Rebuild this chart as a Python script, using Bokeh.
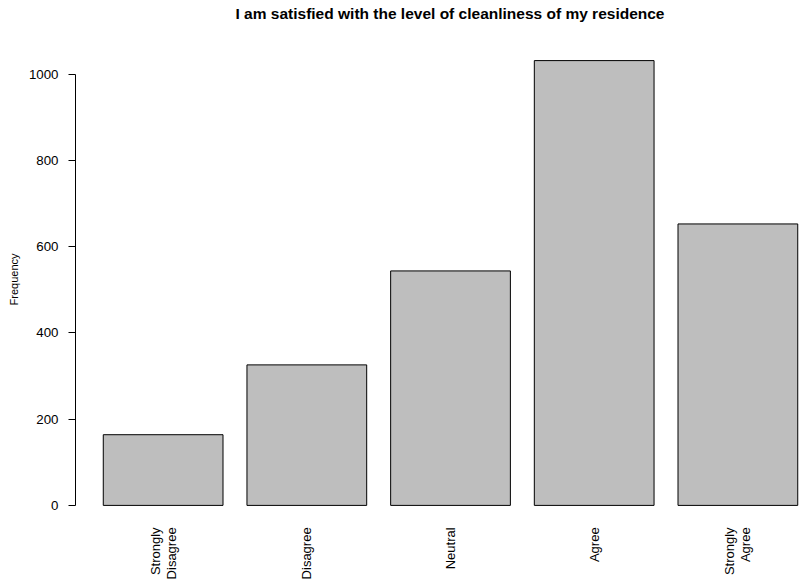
import math
from bokeh.plotting import figure
from bokeh.models import FixedTicker, Range1d, ColumnDataSource, Title
from bokeh.core.properties import value
from bokeh.embed import file_html
from bokeh.resources import INLINE

title_text = "I am satisfied with the level of cleanliness of my residence"
y_label = "Frequency"
categories = ["Strongly\nDisagree", "Disagree", "Neutral", "Agree", "Strongly\nAgree"]
counts = [164, 326, 544, 1032, 653]
y_ticks = [0, 200, 400, 600, 800, 1000]

bar_width = 1.0
space = 0.2
centers = [space + i * (bar_width + space) + bar_width / 2 for i in range(len(counts))]

# layout constants (pixels)
W, H = 799, 580
left_border = 74
top_border = 42
frame_w = W - left_border
frame_h = H - top_border
px_per_unit_y = 431 / 1000.0
px_per_unit_x = 119.9
x_start = -0.032
x_end = x_start + frame_w / px_per_unit_x
y_end = 1074
y_start = y_end - frame_h / px_per_unit_y
label_y = -51

p = figure(width=W, height=H, output_backend="svg", toolbar_location=None,
           x_range=Range1d(x_start, x_end), y_range=Range1d(y_start, y_end),
           min_border_left=left_border, min_border_right=0, min_border_top=top_border,
           min_border_bottom=0)

p.vbar(x=centers, top=counts, bottom=0, width=bar_width,
       fill_color="#BEBEBE", line_color="black", line_width=1)

src = ColumnDataSource(dict(x=centers, y=[label_y] * len(centers), t=categories))
p.text(x="x", y="y", text="t", source=src, angle=math.pi / 2,
       text_align="right", text_baseline="middle",
       text_font=value("Liberation Sans"), text_font_size="13px",
       text_color="black", text_line_height=1.05)

# title: the trailing empty line lifts the text away from the plot frame
p.title.text = title_text + "\n"
p.title.align = "left"
p.title.offset = 160
p.title.vertical_align = "bottom"
p.title.standoff = 0
p.title.text_line_height = 1.2
p.title.text_font = "Liberation Sans"
p.title.text_font_size = "15.5px"
p.title.text_font_style = "bold"
p.title.text_color = "black"

# y axis title, placed as a side title so it can sit off-centre like the original
p.add_layout(Title(text=y_label, align="right", offset=211, vertical_align="bottom",
                   standoff=10.6, text_font="Liberation Sans", text_font_size="11px",
                   text_font_style="normal", text_color="black"), "left")

p.xgrid.visible = False
p.ygrid.visible = False
p.xaxis.visible = False
p.outline_line_color = None
p.background_fill_color = "white"
p.border_fill_color = "white"

ya = p.yaxis[0]
ya.ticker = FixedTicker(ticks=y_ticks)
ya.bounds = (0, 1000)
ya.axis_line_color = "black"
ya.major_tick_line_color = "black"
ya.major_tick_in = 0
ya.major_tick_out = 7
ya.minor_tick_line_color = None
ya.major_label_standoff = 10
ya.major_label_text_font = "Liberation Sans"
ya.major_label_text_font_size = "13.3px"
ya.major_label_text_color = "black"

open("out.html", "w").write(file_html(p, INLINE))
